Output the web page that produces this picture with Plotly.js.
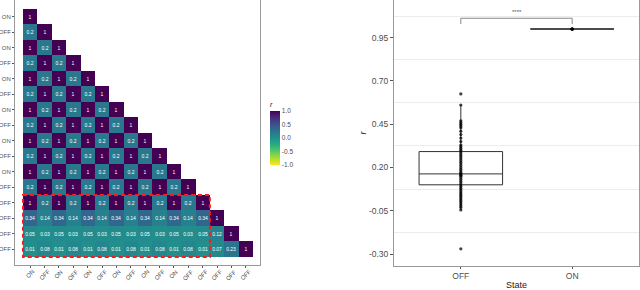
<!DOCTYPE html>
<html><head><meta charset="utf-8">
<script src="https://cdn.plot.ly/plotly-3.0.1.min.js"></script>
<style>html,body{margin:0;padding:0;background:#fff;}#plot{width:640px;height:290px;}</style>
</head><body><div id="plot"></div>
<script>
// ---- Data ----
const stateLabels = ["ON","OFF","ON","OFF","ON","OFF","ON","OFF","ON","OFF","ON","OFF","OFF","OFF","OFF","OFF"];
const corrRows = [
 [1],
 [0.2,1],
 [1,0.2,1],
 [0.2,1,0.2,1],
 [1,0.2,1,0.2,1],
 [0.2,1,0.2,1,0.2,1],
 [1,0.2,1,0.2,1,0.2,1],
 [0.2,1,0.2,1,0.2,1,0.2,1],
 [1,0.2,1,0.2,1,0.2,1,0.2,1],
 [0.2,1,0.2,1,0.2,1,0.2,1,0.2,1],
 [1,0.2,1,0.2,1,0.2,1,0.2,1,0.2,1],
 [0.2,1,0.2,1,0.2,1,0.2,1,0.2,1,0.2,1],
 [1,0.2,1,0.2,1,0.2,1,0.2,1,0.2,1,0.2,1],
 [0.34,0.14,0.34,0.14,0.34,0.14,0.34,0.14,0.34,0.14,0.34,0.14,0.34,1],
 [0.05,0.03,0.05,0.03,0.05,0.03,0.05,0.03,0.05,0.03,0.05,0.03,0.05,0.12,1],
 [0.01,0.08,0.01,0.08,0.01,0.08,0.01,0.08,0.01,0.08,0.01,0.08,0.01,0.07,0.23,1]
];
const highlightRows = [12, 15];
const highlightCols = [0, 12];

const boxGroups = ["OFF","ON"];
const boxQ1 = [0.100, 1.0];
const boxMedian = [0.163, 1.0];
const boxQ3 = [0.292, 1.0];
const boxLower = [-0.045, 1.0];
const boxUpper = [0.561, 1.0];
const offValues = [0.625,0.561,0.47,0.46,0.45,0.44,0.43,0.41,0.39,0.37,0.35,0.33,0.32,0.31,0.30,0.29,0.28,0.27,0.26,0.25,0.24,0.23,0.22,0.21,0.20,0.19,0.18,0.17,0.165,0.16,0.155,0.15,0.14,0.13,0.12,0.11,0.10,0.09,0.08,0.07,0.06,0.05,0.04,0.03,0.02,0.01,0.0,-0.01,-0.02,-0.03,-0.045,-0.27];
const onValues = [1,1,1,1,1,1];
const yTicks = [-0.30,-0.05,0.20,0.45,0.70,0.95];
const sigLabel = "****";
const sigY = [1.029, 1.062];

// ---- Build ----
const n = stateLabels.length;
const idx = stateLabels.map((_, i) => i);
const z = [], txt = [];
for (let i = 0; i < n; i++) {
  const zr = [], tr = [];
  for (let j = 0; j < n; j++) {
    if (j < corrRows[i].length) { zr.push(corrRows[i][j]); tr.push(String(corrRows[i][j])); }
    else { zr.push(null); tr.push(""); }
  }
  z.push(zr); txt.push(tr);
}
const FONT = "Liberation Sans, Arial, sans-serif";
const grey = "#4d4d4d";

const heat = {
  type: "heatmap", x: idx, y: idx, z: z, text: txt, texttemplate: "%{text}",
  textfont: {family: FONT, size: 5, color: "#ffffff"},
  colorscale: "Viridis", reversescale: true, zmin: -1, zmax: 1,
  xaxis: "x", yaxis: "y", hoverinfo: "skip",
  colorbar: {
    title: {text: "<i>r</i>", side: "top", font: {family: FONT, size: 7, color: "#222"}},
    thickness: 10, lenmode: "pixels", len: 66, x: 270/640, xanchor: "left",
    y: (290-132)/290, yanchor: "middle", xpad: 0, ypad: 0, outlinewidth: 0,
    tickvals: [-1, -0.5, 0, 0.5, 1], ticktext: ["-1.0","-0.5","0.0","0.5","1.0"],
    tickfont: {family: FONT, size: 6.5, color: grey}, ticks: ""
  }
};

const box = {
  type: "box", x: boxGroups, q1: boxQ1, median: boxMedian, q3: boxQ3,
  lowerfence: boxLower, upperfence: boxUpper, xaxis: "x2", yaxis: "y2",
  width: 0.75, whiskerwidth: 0, fillcolor: "rgba(255,255,255,0)",
  line: {color: "#333", width: 1}, boxpoints: false, hoverinfo: "skip", showlegend: false
};
const pts = {
  type: "scatter", mode: "markers",
  x: offValues.map(() => "OFF").concat(onValues.map(() => "ON")),
  y: offValues.concat(onValues), xaxis: "x2", yaxis: "y2",
  marker: {size: 3.2, color: "rgba(0,0,0,0.75)"}, hoverinfo: "skip", showlegend: false
};

const shapes = [
  {type: "rect", xref: "x", yref: "y",
   x0: highlightCols[0]-0.5, x1: highlightCols[1]+0.5, y0: highlightRows[0]-0.5, y1: highlightRows[1]+0.5,
   line: {color: "#ff1a1a", width: 2, dash: "4px,3px"}},
  {type: "path", xref: "x2", yref: "y2",
   path: `M 0 ${sigY[0]} L 0 ${sigY[1]} L 1 ${sigY[1]} L 1 ${sigY[0]}`,
   line: {color: "#888", width: 1}}
];

const annotations = [{xref: "x2", yref: "y2", x: 0.5, y: 1.098, text: sigLabel, showarrow: false,
    font: {family: FONT, size: 6, color: "#555"}}];
stateLabels.forEach((lab, i) => {
  annotations.push({xref: "x", yref: "paper", x: i, y: (290-266)/290, xanchor: "center", yanchor: "top",
    text: lab, textangle: -45, showarrow: false, font: {family: FONT, size: 6, color: grey}});
});

const layout = {
  width: 640, height: 290, margin: {l: 0, r: 0, t: 0, b: 0},
  paper_bgcolor: "#fff", plot_bgcolor: "#fff", showlegend: false,
  font: {family: FONT, color: grey},
  xaxis: {domain: [15/640, 260/640], anchor: "y", range: [-1.057, 15.987],
    tickvals: idx, showticklabels: false, ticks: "outside", ticklen: 2, tickcolor: "#555",
    showgrid: false, zeroline: false, showline: true, mirror: true, linecolor: "#999", linewidth: 1},
  yaxis: {domain: [25/290, 1], anchor: "x", range: [16.016, -1.08],
    tickvals: idx, ticktext: stateLabels,
    tickfont: {family: FONT, size: 6, color: grey}, ticks: "outside", ticklen: 2, tickcolor: "#555",
    showgrid: false, zeroline: false, showline: true, mirror: true, linecolor: "#999", linewidth: 1},
  xaxis2: {domain: [394/640, 639/640], anchor: "y2", type: "category", categoryarray: boxGroups,
    range: [-0.6, 1.6], tickfont: {family: FONT, size: 8.5, color: grey},
    ticks: "outside", ticklen: 2, tickcolor: "#555",
    showgrid: false, zeroline: false, showline: true, mirror: true, linecolor: "#999", linewidth: 1,
    title: {text: "State", font: {family: FONT, size: 9, color: "#222"}, standoff: 5}},
  yaxis2: {domain: [24/290, 1], anchor: "x2", range: [-0.369, 1.1675],
    tickvals: yTicks, ticktext: yTicks.map(v => v.toFixed(2)),
    tickfont: {family: FONT, size: 8.5, color: grey}, ticks: "outside", ticklen: 3, tickcolor: "#555",
    showgrid: false, zeroline: false, showline: true, mirror: true, linecolor: "#999", linewidth: 1,
    minor: {tick0: 0.075, dtick: 0.25, showgrid: true, gridcolor: "#ececec", gridwidth: 1, ticks: ""},
    title: {text: "<i>r</i>", font: {family: FONT, size: 9, color: "#222"}, standoff: 0}},
  shapes: shapes,
  annotations: annotations
};

Plotly.newPlot("plot", [heat, box, pts], layout, {staticPlot: true, displayModeBar: false});
</script>
</body></html>
